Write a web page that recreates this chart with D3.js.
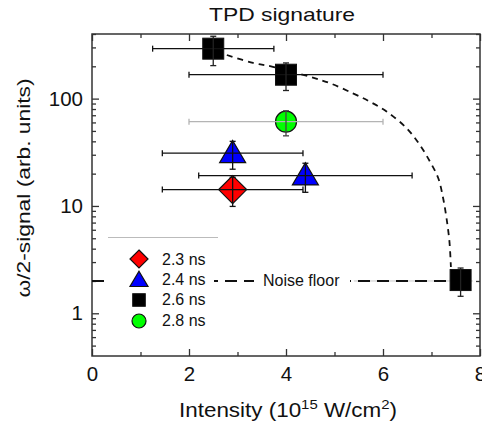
<!DOCTYPE html>
<html>
<head>
<meta charset="utf-8">
<script src="https://cdn.jsdelivr.net/npm/d3@7"></script>
<style>
  html, body { margin: 0; padding: 0; background: #fff; }
  svg { display: block; font-family: "Liberation Sans", Arial, sans-serif; }
</style>
</head>
<body>
<svg id="chart" width="482" height="429"></svg>
<script>
// Pulse durations and measured points: [intensity, signal, intensity error, signal error]
const series = ["2.3 ns", "2.4 ns", "2.6 ns", "2.8 ns"];
const points23 = [[2.9, 14.2, 1.45, 4.3]];
const points24 = [[2.9, 31, 1.45, 9], [4.4, 19.2, 2.2, 5.8]];
const points26 = [[2.5, 292, 1.25, 89], [4.0, 167, 2.0, 48], [7.6, 2.04, 0, 0.6]];
const points28 = [[4.0, 61, 2.0, 16]];

// Guide curve through the 2.6 ns points
const fitX = [2.78, 3.32, 3.73, 4.49, 4.91, 5.38, 5.73, 6.08, 6.49, 6.76, 6.97, 7.14, 7.24, 7.31, 7.37, 7.40];
const fitY = [255, 215, 198, 160, 139, 112, 93.6, 75.5, 52.9, 37, 25.8, 18.1, 11.8, 7.67, 4.65, 2.7];

const noiseLevel = 2;
const xMajorTicks = [0, 2, 4, 6, 8];
const xMinorTicks = [1, 3, 5, 7];
const yMajorTicks = [1, 10, 100];
const yMinorTicks = [0.5, 0.6, 0.7, 0.8, 0.9, 2, 3, 4, 5, 6, 7, 8, 9, 20, 30, 40, 50, 60, 70, 80, 90, 200, 300, 400];

const W = 482, H = 429;
const L = 92, R = 480, T = 34, B = 356;
const svg = d3.select("#chart");

const x = d3.scaleLinear().domain([0, 8]).range([L, R]);
const y = d3.scaleLog().domain([0.4, 400]).range([B, T]);

const axisColor = "#333";

// Axes with inward ticks
function styleAxis(g) {
  g.select(".domain").remove();
  g.selectAll("line").attr("stroke", axisColor).attr("stroke-width", 1.3);
  g.selectAll("text").attr("fill", "#111").attr("font-size", 20.5);
}
svg.append("g").attr("transform", `translate(0,${B})`)
  .call(d3.axisBottom(x).tickValues(xMajorTicks).tickSize(-7).tickPadding(10).tickFormat(d3.format("d")))
  .call(styleAxis);
svg.append("g").attr("transform", `translate(0,${B})`)
  .call(d3.axisBottom(x).tickValues(xMinorTicks).tickSize(-4).tickFormat(""))
  .call(styleAxis);
svg.append("g").attr("transform", `translate(0,${T})`)
  .call(d3.axisTop(x).tickValues(xMajorTicks).tickSize(-7).tickFormat(""))
  .call(styleAxis);
svg.append("g").attr("transform", `translate(0,${T})`)
  .call(d3.axisTop(x).tickValues(xMinorTicks).tickSize(-4).tickFormat(""))
  .call(styleAxis);
svg.append("g").attr("transform", `translate(${L},0)`)
  .call(d3.axisLeft(y).tickValues(yMajorTicks).tickSize(-7).tickPadding(9).tickFormat(d3.format("d")))
  .call(styleAxis);
svg.append("g").attr("transform", `translate(${L},0)`)
  .call(d3.axisLeft(y).tickValues(yMinorTicks).tickSize(-4).tickFormat(""))
  .call(styleAxis);
svg.append("g").attr("transform", `translate(${R},0)`)
  .call(d3.axisRight(y).tickValues(yMajorTicks).tickSize(-7).tickFormat(""))
  .call(styleAxis);
svg.append("g").attr("transform", `translate(${R},0)`)
  .call(d3.axisRight(y).tickValues(yMinorTicks).tickSize(-4).tickFormat(""))
  .call(styleAxis);

svg.append("rect")
  .attr("x", L).attr("y", T).attr("width", R - L).attr("height", B - T)
  .attr("fill", "none").attr("stroke", axisColor).attr("stroke-width", 1.5);

// Titles
svg.append("text")
  .attr("transform", `translate(${(L + R) / 2 - 4},21) scale(1.23,1)`)
  .attr("text-anchor", "middle").attr("font-size", 18.6).attr("fill", "#111")
  .text("TPD signature");

const xl = svg.append("text")
  .attr("transform", `translate(${(L + R) / 2 + 2},417) scale(1.15,1)`)
  .attr("text-anchor", "middle").attr("font-size", 19.5).attr("fill", "#111");
xl.append("tspan").text("Intensity (10");
xl.append("tspan").attr("font-size", 13).attr("dy", -8).text("15");
xl.append("tspan").attr("dy", 8).text(" W/cm");
xl.append("tspan").attr("font-size", 13).attr("dy", -8).text("2");
xl.append("tspan").attr("dy", 8).text(")");

svg.append("text")
  .attr("transform", `translate(30,188) rotate(-90) scale(1.2,1)`)
  .attr("text-anchor", "middle").attr("font-size", 19).attr("fill", "#111")
  .text("ω/2-signal (arb. units)");

// Noise floor
svg.append("line")
  .attr("x1", x(5.4)).attr("x2", x(7.85)).attr("y1", y(noiseLevel)).attr("y2", y(noiseLevel))
  .attr("stroke", "#c8c8c8").attr("stroke-width", 1);
svg.append("line")
  .attr("x1", x(0)).attr("x2", x(7.45)).attr("y1", y(noiseLevel)).attr("y2", y(noiseLevel))
  .attr("stroke", "#111").attr("stroke-width", 2).attr("stroke-dasharray", "12,7");
svg.append("rect").attr("x", 254).attr("y", y(noiseLevel) - 9).attr("width", 96).attr("height", 18).attr("fill", "#fff");
svg.append("text").attr("x", 263).attr("y", y(noiseLevel) + 5.5)
  .attr("font-size", 16).attr("fill", "#111").text("Noise floor");

// Guide curve
const fit = fitX.map((v, i) => [v, fitY[i]]);
svg.append("path")
  .attr("d", d3.line().x(d => x(d[0])).y(d => y(d[1])).curve(d3.curveCatmullRom.alpha(0.5))(fit))
  .attr("fill", "none").attr("stroke", "#111").attr("stroke-width", 1.8)
  .attr("stroke-dasharray", "6,5");

// Marker shapes
function marker(g, kind, size, fill) {
  const s = size;
  if (kind === "diamond") {
    g.append("path").attr("d", `M0,${-s}L${s},0L0,${s}L${-s},0Z`)
      .attr("fill", fill).attr("stroke", "#111").attr("stroke-width", 1.2);
  } else if (kind === "triangle") {
    g.append("path").attr("d", `M0,${-s * 0.98}L${s},${s * 0.72}L${-s},${s * 0.72}Z`)
      .attr("fill", fill).attr("stroke", "#111").attr("stroke-width", 1.2);
  } else if (kind === "square") {
    g.append("rect").attr("x", -s).attr("y", -s).attr("width", 2 * s).attr("height", 2 * s)
      .attr("fill", fill).attr("stroke", "#111").attr("stroke-width", 1);
  } else {
    g.append("circle").attr("r", s).attr("fill", fill).attr("stroke", "#111").attr("stroke-width", 1.2);
  }
}

const groups = [
  { data: points23, kind: "diamond", size: 14, fill: "#ff0000", errX: "#111", errY: "#111", lsize: 9 },
  { data: points24, kind: "triangle", size: 13, fill: "#0000ff", errX: "#111", errY: "#111", lsize: 9 },
  { data: points26, kind: "square", size: 10.5, fill: "#000000", errX: "#111", errY: "#222", lsize: 6.3 },
  { data: points28, kind: "circle", size: 10.5, fill: "#00ff00", errX: "#b4b4b4", errY: "#444", lsize: 7 }
];

const cap = 3;
groups.forEach(gr => {
  gr.data.forEach(d => {
    const g = svg.append("g").attr("transform", `translate(${x(d[0])},${y(d[1])})`);
    marker(g, gr.kind, gr.size, gr.fill);
    const e = svg.append("g").attr("stroke-width", 1.3).attr("fill", "none");
    if (d[2] > 0) {
      const xa = x(d[0] - d[2]), xb = x(d[0] + d[2]), yy = y(d[1]);
      const ex = e.append("g").attr("stroke", gr.errX);
      ex.append("line").attr("x1", xa).attr("x2", xb).attr("y1", yy).attr("y2", yy);
      ex.append("line").attr("x1", xa).attr("x2", xa).attr("y1", yy - cap).attr("y2", yy + cap);
      ex.append("line").attr("x1", xb).attr("x2", xb).attr("y1", yy - cap).attr("y2", yy + cap);
    }
    if (d[3] > 0) {
      const ya = y(d[1] - d[3]), yb = y(d[1] + d[3]), xx = x(d[0]);
      const ey = e.append("g").attr("stroke", gr.errY);
      ey.append("line").attr("x1", xx).attr("x2", xx).attr("y1", ya).attr("y2", yb);
      ey.append("line").attr("x1", xx - cap).attr("x2", xx + cap).attr("y1", ya).attr("y2", ya);
      ey.append("line").attr("x1", xx - cap).attr("x2", xx + cap).attr("y1", yb).attr("y2", yb);
    }
  });
});

// Legend
const leg = svg.append("g");
leg.append("rect").attr("x", 104).attr("y", 240).attr("width", 110).attr("height", 95).attr("fill", "#fff");
leg.append("line").attr("x1", 108).attr("x2", 218).attr("y1", 237.5).attr("y2", 237.5)
  .attr("stroke", "#bbb").attr("stroke-width", 1);
const legY = [259, 280, 300, 321];
series.forEach((name, i) => {
  const gr = groups[i];
  const g = leg.append("g").attr("transform", `translate(139,${legY[i]})`);
  marker(g, gr.kind, gr.lsize, gr.fill);
  leg.append("text").attr("x", 162).attr("y", 265 + i * 20.2)
    .attr("font-size", 16).attr("fill", "#111").text(name);
});
</script>
</body>
</html>
